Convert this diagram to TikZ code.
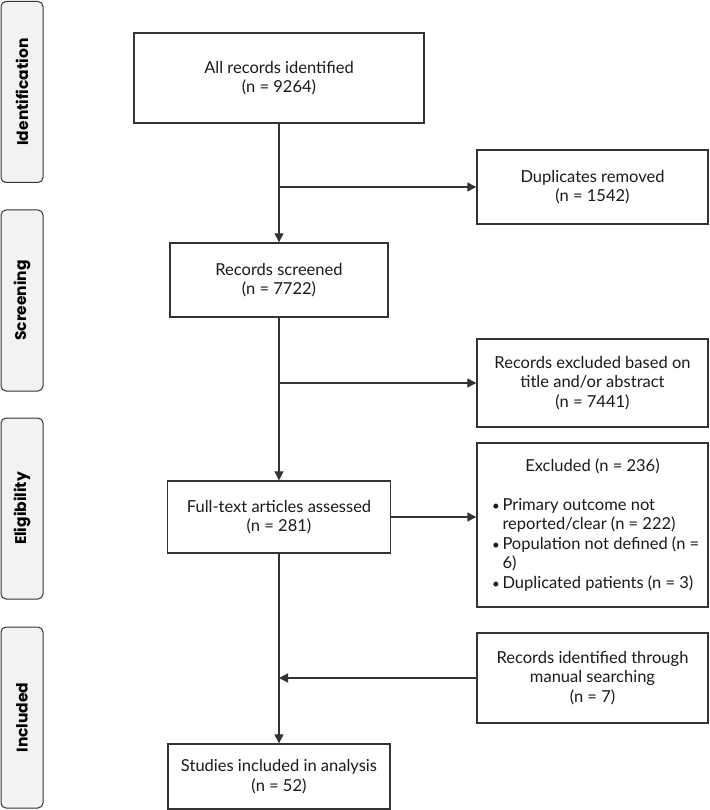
\documentclass[tikz,border=0pt]{standalone}
\usepackage{fontspec}
\setmainfont{Lato}
\newfontfamily\sidefont{Poppins}
\usetikzlibrary{arrows.meta}
\definecolor{edge}{HTML}{333333}
\definecolor{sidefill}{HTML}{F2F2F2}
\definecolor{ink}{HTML}{1A1A1A}
\newcommand{\bulletline}[1]{\mbox{\makebox[10.5pt][l]{\scalebox{0.8}{\textbullet}}#1}}
\newcommand{\hangline}[1]{\mbox{\hspace*{10.5pt}#1}}
\begin{document}
\begin{tikzpicture}[x=1pt,y=-1pt,
  box/.style={draw=edge, line width=1.4pt, fill=white, inner sep=0pt, align=center,
    font=\fontsize{16.5}{19.5}\selectfont, text=ink},
  side/.style={draw=edge, line width=1pt, fill=sidefill, rounded corners=5pt, inner sep=0pt,
    rotate=90, minimum width=181pt, minimum height=42pt,
    font=\sidefont\bfseries\fontsize{15.5}{18}\selectfont, text=black},
  conn/.style={draw=edge, line width=1.3pt},
  arr/.style={conn, -{Triangle[length=9pt,width=9pt]}}
]
\useasboundingbox (0,0) rectangle (709,810);

% side labels
\node[side] (sid) at (22,92) {Identification};
\node[side] (sscr) at (22,300.5) {Screening};
\node[side] (selig) at (22,508.5) {Eligibility};
\node[side] (sinc) at (22,717.5) {Included};

% main column
\node[box, minimum width=290pt, minimum height=90pt] (allrec) at (279,78)
  {All records identified\\(n = 9264)};
\node[box, minimum width=218pt, minimum height=74pt] (screened) at (279,280)
  {Records screened\\(n = 7722)};
\node[box, minimum width=223pt, minimum height=72pt] (fulltext) at (279,517)
  {Full-text articles assessed\\(n = 281)};
\node[box, minimum width=222pt, minimum height=65pt] (studies) at (279,776.5)
  {Studies included in analysis\\(n = 52)};

% right column
\node[box, minimum width=231pt, minimum height=74pt] (dup) at (592.5,187)
  {Duplicates removed\\(n = 1542)};
\node[box, minimum width=231pt, minimum height=88pt] (excl1) at (592.5,383)
  {Records excluded based on\\title and/or abstract\\(n = 7441)};
\node[box, minimum width=231pt, minimum height=164pt] (excl2) at (592.5,525)
  {\parbox{201pt}{\fontsize{16.5}{19.5}\selectfont\centering Excluded (n = 236)\par\vspace{19pt}%
   \raggedright
   \bulletline{Primary outcome not}\\
   \hangline{reported/clear (n = 222)}\\
   \bulletline{Population not defined (n =}\\
   \hangline{6)}\\
   \bulletline{Duplicated patients (n = 3)}\par}};
\node[box, minimum width=231pt, minimum height=90pt] (manual) at (592.5,678)
  {Records identified through\\manual searching\\(n = 7)};

% connectors
\draw[arr] (allrec.south) -- (screened.north);
\coordinate (j1) at (allrec.south |- dup.west);
\draw[arr] (j1) -- (dup.west);
\draw[arr] (screened.south) -- (fulltext.north);
\coordinate (j2) at (screened.south |- excl1.west);
\draw[arr] (j2) -- (excl1.west);
\draw[arr] (fulltext.east) -- (fulltext.east -| excl2.west);
\draw[arr] (fulltext.south) -- (studies.north);
\coordinate (j3) at (fulltext.south |- manual.west);
\draw[arr] (manual.west) -- (j3);
\end{tikzpicture}
\end{document}
